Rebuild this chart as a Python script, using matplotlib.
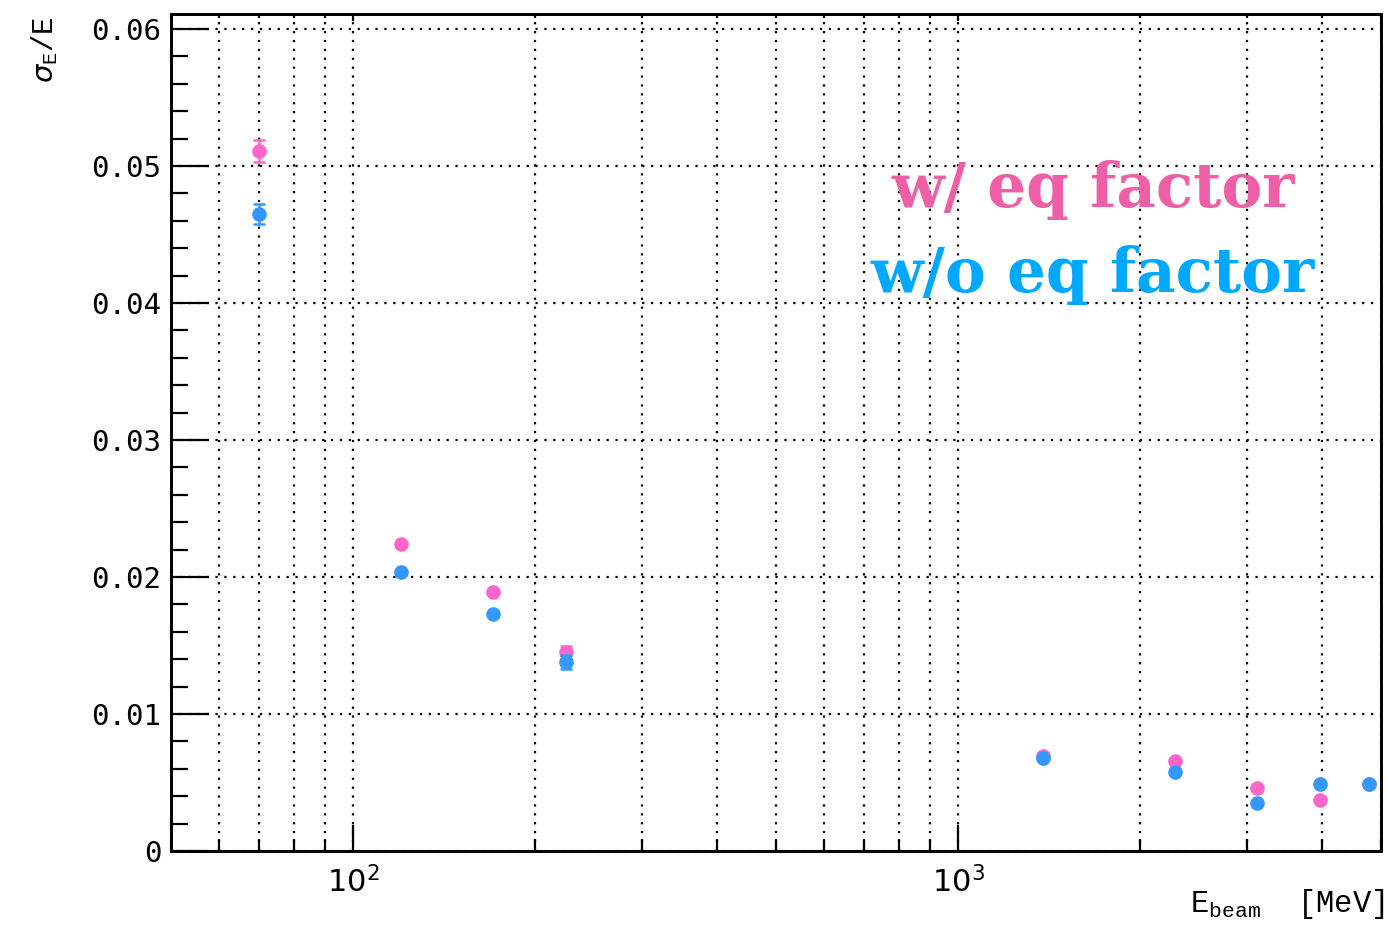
import matplotlib
matplotlib.use("Agg")
import matplotlib.pyplot as plt
from matplotlib.ticker import MultipleLocator, FixedLocator, NullFormatter
import numpy as np

# Data
energy = [70, 120, 170, 225, 1380, 2280, 3120, 3960, 4780]
res_with_eq = [0.0511, 0.0224, 0.0189, 0.0145, 0.0069, 0.0066, 0.0046, 0.0037, 0.0049]
err_with_eq = [0.0008, 0.0001, 0.0001, 0.0005, 0.0001, 0.0001, 0.0001, 0.0001, 0.0001]
res_without_eq = [0.0465, 0.0204, 0.0173, 0.0138, 0.0068, 0.0058, 0.0035, 0.0049, 0.0049]
err_without_eq = [0.0007, 0.0001, 0.0001, 0.0005, 0.0001, 0.0001, 0.0001, 0.0001, 0.0001]
y_ticks = [0, 0.01, 0.02, 0.03, 0.04, 0.05, 0.06]
y_tick_labels = ["0", "0.01", "0.02", "0.03", "0.04", "0.05", "0.06"]
x_major = [100, 1000]
x_major_labels = [r"$\mathregular{10^{2}}$", r"$\mathregular{10^{3}}$"]

pink_marker = "#FF66CC"
blue_marker = "#3399FF"
pink_text = "#EE5FA5"
blue_text = "#00A8FF"

fig = plt.figure(figsize=(13.87, 9.25), dpi=100)
ax = fig.add_axes([171/1387, 74/925, (1381-171)/1387, (851-14)/925])

ax.set_xscale("log")
ax.set_xlim(50, 5000)
ax.set_ylim(0, 0.0611)

ax.errorbar(energy, res_with_eq, yerr=err_with_eq, fmt="o", color=pink_marker,
            ms=9.5, elinewidth=1.8, capsize=4.5, capthick=1.8, zorder=3)
ax.errorbar(energy, res_without_eq, yerr=err_without_eq, fmt="o", color=blue_marker,
            ms=9.5, elinewidth=1.8, capsize=4.5, capthick=1.8, zorder=4)

minors = [v * d for d in (10, 100, 1000) for v in range(2, 10) if 50 <= v * d <= 5000]

# ticks
ax.set_yticks(y_ticks)
ax.set_yticklabels(y_tick_labels)
ax.yaxis.set_minor_locator(MultipleLocator(0.002))
ax.xaxis.set_major_locator(FixedLocator(x_major))
ax.set_xticklabels(x_major_labels)
ax.xaxis.set_minor_locator(FixedLocator(minors))
ax.xaxis.set_minor_formatter(NullFormatter())

ax.tick_params(axis="y", which="major", direction="in", length=27, width=1.6,
               left=True, right=False, labelsize=21, pad=7)
ax.tick_params(axis="y", which="minor", direction="in", length=12, width=1.6,
               left=True, right=False)
ax.tick_params(axis="x", which="major", direction="in", length=19, width=1.6,
               bottom=True, top=False, labelsize=22, pad=11)
ax.tick_params(axis="x", which="minor", direction="in", length=9, width=1.6,
               bottom=True, top=False)
for lab in ax.get_yticklabels():
    lab.set_family("DejaVu Sans Mono")

for s in ax.spines.values():
    s.set_linewidth(2.0)

ax.grid(True, which="major", axis="both", color="black", linestyle=(0, (1, 3)), linewidth=1.6)
ax.grid(True, which="minor", axis="x", color="black", linestyle=(0, (1, 3)), linewidth=1.6)
ax.set_axisbelow(True)

# short ticks on the top axis
ax2 = ax.twiny()
ax2.set_xscale("log")
ax2.set_xlim(ax.get_xlim())
ax2.xaxis.set_major_locator(FixedLocator(x_major))
ax2.xaxis.set_minor_locator(FixedLocator(minors))
ax2.xaxis.set_major_formatter(NullFormatter())
ax2.xaxis.set_minor_formatter(NullFormatter())
ax2.tick_params(axis="x", which="major", direction="in", length=5, width=1.6)
ax2.tick_params(axis="x", which="minor", direction="in", length=3, width=1.6)
for s in ax2.spines.values():
    s.set_linewidth(2.0)

# labels
fig.text(45/1387, 1 - 50/925, r"$\sigma_{\mathregular{E}}$/E", rotation=90,
         ha="center", va="center", fontsize=21, family="Liberation Mono")
fig.text(1385/1387, 1 - 912/925, r"E$_{\mathregular{beam}}$  [MeV]",
         ha="right", va="baseline", fontsize=22, family="Liberation Mono")

# annotations
fig.text(1093/1387, 1 - 190/925, "w/ eq factor",
         ha="center", va="center", fontsize=44, fontweight="bold",
         family="DejaVu Serif", color=pink_text)
fig.text(1093/1387, 1 - 275/925, "w/o eq factor",
         ha="center", va="center", fontsize=44, fontweight="bold",
         family="DejaVu Serif", color=blue_text)

fig.savefig("out.png", dpi=100)
